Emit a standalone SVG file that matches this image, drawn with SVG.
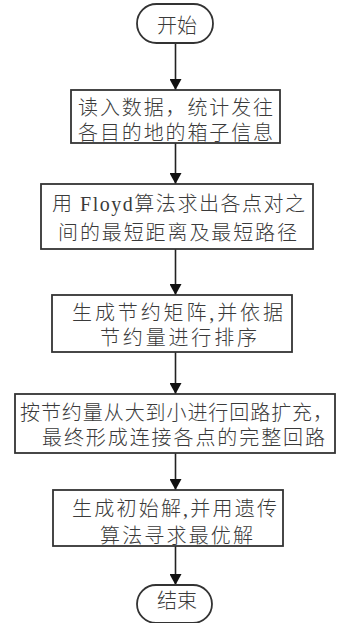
<svg xmlns="http://www.w3.org/2000/svg" width="339" height="623" viewBox="0 0 339 623">
<defs>
<style>
.box{fill:#fff;stroke:#333;stroke-width:1.8}
.t{font-family:"Liberation Serif","Noto Sans CJK SC",serif;font-size:20px;font-weight:300;fill:#3a3a3a;text-anchor:middle}
.c{stroke:#222;stroke-width:1.6;fill:none}
</style>
<marker id="ah" viewBox="0 0 11 12" refX="11" refY="6" markerWidth="11" markerHeight="12" markerUnits="userSpaceOnUse" orient="auto">
<path d="M0,0 L11,6 L0,12 Z" fill="#111"/>
</marker>
</defs>
<rect width="339" height="623" fill="#fff"/>
<g id="connectors">
<line class="c" x1="175.5" y1="43" x2="175.5" y2="90" marker-end="url(#ah)"/>
<line class="c" x1="175.5" y1="143" x2="175.5" y2="184" marker-end="url(#ah)"/>
<line class="c" x1="175.5" y1="249" x2="175.5" y2="295" marker-end="url(#ah)"/>
<line class="c" x1="175.5" y1="352" x2="175.5" y2="394" marker-end="url(#ah)"/>
<line class="c" x1="175.5" y1="453" x2="175.5" y2="490" marker-end="url(#ah)"/>
<line class="c" x1="175.5" y1="546" x2="175.5" y2="585" marker-end="url(#ah)"/>
</g>
<g id="start">
<rect class="box" x="137" y="4" width="76" height="39" rx="19.5"/>
<text class="t" x="177" y="32.5">开始</text>
</g>
<g id="step1">
<rect class="box" x="71" y="90" width="209" height="53"/>
<text class="t" x="175.5" y="114.5" textLength="195" lengthAdjust="spacing">读入数据，统计发往</text>
<text class="t" x="175.5" y="139.5" textLength="195" lengthAdjust="spacing">各目的地的箱子信息</text>
</g>
<g id="step2">
<rect class="box" x="41" y="184" width="272" height="65"/>
<text class="t" x="178.5" y="211" textLength="253" lengthAdjust="spacing">用 Floyd算法求出各点对之</text>
<text class="t" x="177.5" y="239.5" textLength="239" lengthAdjust="spacing">间的最短距离及最短路径</text>
</g>
<g id="step3">
<rect class="box" x="52" y="295" width="240" height="57"/>
<text class="t" x="177.5" y="319.5" textLength="211" lengthAdjust="spacing">生成节约矩阵,并依据</text>
<text class="t" x="178.5" y="344.5" textLength="157" lengthAdjust="spacing">节约量进行排序</text>
</g>
<g id="step4">
<rect class="box" x="15" y="394" width="320" height="59"/>
<text class="t" x="176.5" y="419.5" textLength="313" lengthAdjust="spacing">按节约量从大到小进行回路扩充，</text>
<text class="t" x="183.5" y="444.5" textLength="283" lengthAdjust="spacing">最终形成连接各点的完整回路</text>
</g>
<g id="step5">
<rect class="box" x="53" y="490" width="230" height="56"/>
<text class="t" x="174.5" y="515.5" textLength="205" lengthAdjust="spacing">生成初始解,并用遗传</text>
<text class="t" x="176.5" y="542.5" textLength="153" lengthAdjust="spacing">算法寻求最优解</text>
</g>
<g id="end">
<rect class="box" x="137" y="585" width="75" height="38" rx="19"/>
<text class="t" x="177" y="607.5">结束</text>
</g>
</svg>
